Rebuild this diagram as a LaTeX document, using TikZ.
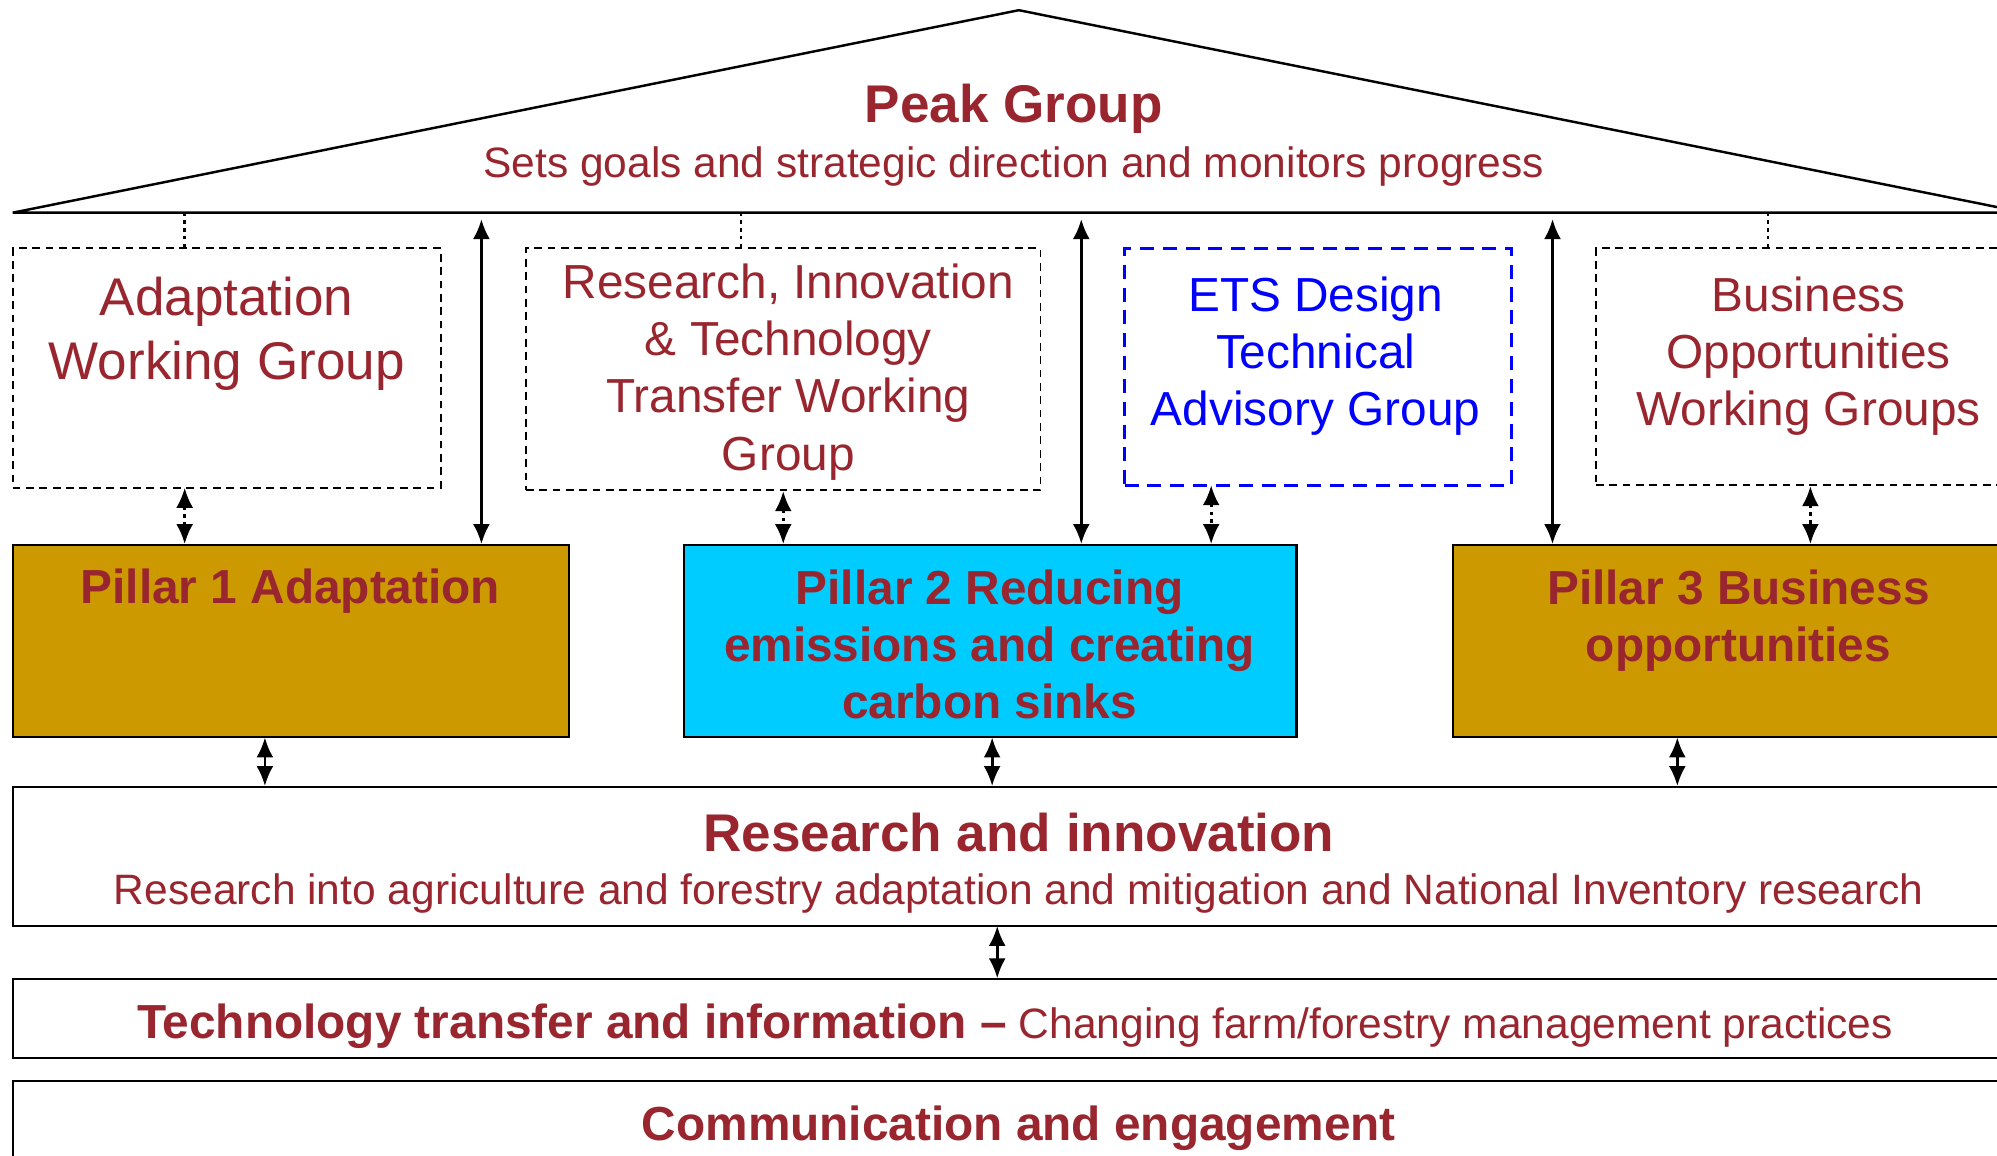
\documentclass[tikz,border=0pt]{standalone}
\usepackage{fontspec}
\setmainfont{Liberation Sans}
\usetikzlibrary{arrows.meta}

\definecolor{darkred}{RGB}{153,38,47}
\definecolor{gold}{RGB}{204,153,0}
\definecolor{skyblue}{RGB}{0,204,255}
\newcommand{\bigtext}{\fontsize{15.1}{18.1}\selectfont}
\newcommand{\midtext}{\fontsize{13.6}{16.3}\selectfont}
\newcommand{\smalltext}{\fontsize{12.1}{14.5}\selectfont}
\newcommand{\unitpx}{0.012736cm}

\tikzset{
  wgbox/.style={draw,dash pattern=on 2.2pt off 1.6pt,line width=0.5pt,inner sep=0pt},
  pillar/.style={draw,line width=0.6pt,inner sep=0pt},
  band/.style={draw,line width=0.6pt,inner sep=0pt},
  size/.style 2 args={minimum width=#1*\unitpx,minimum height=#2*\unitpx},
  lbl/.style={text=darkred,align=center,inner sep=0pt},
  arr/.style={{Latex[length=2mm,width=1.7mm]}-{Latex[length=2mm,width=1.7mm]},line width=0.8pt},
  dotarr/.style={arr,dash pattern=on 1pt off 1.2pt},
  dotline/.style={line width=0.7pt,dash pattern=on 1pt off 1.2pt},
}

\begin{document}
\begin{tikzpicture}[x=\unitpx,y=-\unitpx]
    \useasboundingbox (0,0) rectangle (1568,907);
    % roof
    \coordinate (eaveL) at (10,167); \coordinate (apex) at (800,8); \coordinate (eaveR) at (1590,167);
    \draw[line width=0.7pt] (eaveL) -- (apex) -- (eaveR) -- cycle;
    \node[lbl,font=\bigtext\bfseries] (peak) at (796,85.5) {Peak Group};
    \node[lbl,font=\smalltext] (peaksub) at (796,130.5) {Sets goals and strategic direction and monitors progress};
    % working groups
    \node[wgbox,size={336}{188}] (adwg) at (178,289) {};
    \node[wgbox,size={404}{190}] (ritwg) at (615,290) {};
    \node[wgbox,draw=blue,dash pattern=on 4pt off 2.5pt,line width=0.8pt,size={304}{186}] (etsg) at (1035,288) {};
    \node[wgbox,size={337}{186}] (bowg) at (1421.5,288) {};
    \node[lbl,font=\bigtext] (adwgtxt) at (178,262) {Adaptation\\Working Group};
    \node[lbl,font=\midtext] (ritwgtxt) at (619,292) {Research, Innovation\\\& Technology\\Transfer Working\\Group};
    \node[lbl,font=\midtext,text=blue] (etsgtxt) at (1033,279.5) {ETS Design\\Technical\\Advisory Group};
    \node[lbl,font=\midtext] (bowgtxt) at (1420,279.5) {Business\\Opportunities\\Working Groups};
    % pillars
    \node[pillar,fill=gold,size={437}{151}] (p1) at (228.5,503.5) {};
    \node[pillar,fill=skyblue,size={481}{151}] (p2) at (777.5,503.5) {};
    \node[pillar,fill=gold,size={449}{151}] (p3) at (1365.5,503.5) {};
    \node[lbl,font=\midtext\bfseries] (p1txt) at (228,464.5) {Pillar 1 Adaptation};
    \node[lbl,font=\midtext\bfseries] (p2txt) at (777,506) {Pillar 2 Reducing\\emissions and creating\\carbon sinks};
    \node[lbl,font=\midtext\bfseries] (p3txt) at (1365,487.5) {Pillar 3 Business\\opportunities};
    % bands
    \node[band,size={1580}{109}] (rai) at (800,672.5) {};
    \node[band,size={1580}{62}] (ttb) at (800,800) {};
    \node[band,size={1580}{66}] (ceb) at (800,882) {};
    \node[lbl,font=\bigtext\bfseries] (raitxt) at (800,654) {Research and innovation};
    \node[lbl,font=\smalltext] (raisub) at (800,701.5) {Research into agriculture and forestry adaptation and mitigation and National Inventory research};
    \node[lbl] (ttbtxt) at (797,805.5) {{\midtext\bfseries Technology transfer and information –}{\smalltext\ Changing farm/forestry management practices}};
    \node[lbl,font=\midtext\bfseries] (cebtxt) at (800,885.5) {Communication and engagement};
    % roof to groups
    \coordinate (d1) at (145,167); \coordinate (d2) at (582,167); \coordinate (d3) at (1388,167);
    \draw[dotline] (d1) -- (d1 |- adwg.north);
    \draw[dotline] (d2) -- (d2 |- ritwg.north);
    \draw[dotline] (d3) -- (d3 |- bowg.north);
    % roof to pillars
    \coordinate (r1) at (378,172); \coordinate (r2) at (849,172); \coordinate (r3) at (1219,172);
    \draw[arr] (r1) -- (r1 |- p1.north);
    \draw[arr] (r2) -- (r2 |- p2.north);
    \draw[arr] (r3) -- (r3 |- p3.north);
    % groups to pillars
    \coordinate (g1) at (145,383); \coordinate (g3) at (951,381);
    \draw[dotarr] (g1) -- (g1 |- p1.north);
    \draw[dotarr] (ritwg.south) -- (ritwg.south |- p2.north);
    \draw[dotarr] (g3) -- (g3 |- p2.north);
    \draw[dotarr] (bowg.south) -- (bowg.south |- p3.north);
    % pillars to research
    \coordinate (s1) at (208,579); \coordinate (s2) at (779,579); \coordinate (s3) at (1317,579);
    \draw[arr] (s1) -- (s1 |- rai.north);
    \draw[arr] (s2) -- (s2 |- rai.north);
    \draw[arr] (s3) -- (s3 |- rai.north);
    \coordinate (t1) at (783,727);
    \draw[arr] (t1) -- (t1 |- ttb.north);
\end{tikzpicture}
\end{document}
